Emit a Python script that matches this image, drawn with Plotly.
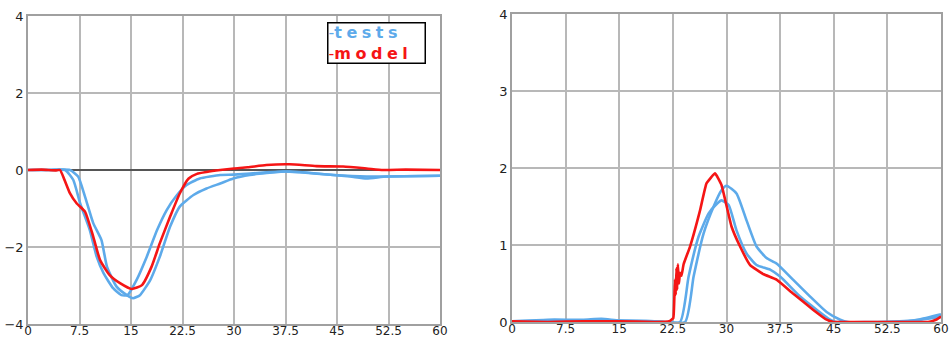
import plotly.graph_objects as go

# ---- left panel data ----
L_model_x = [0, 2, 4, 4.66, 5.3, 6.1, 7.1, 8.3, 9.5, 10.5, 11.9, 13.4, 15.1, 16.6, 18.0, 19.2, 20.7, 22.1, 23.4, 24.6, 26, 28, 30, 32, 34.7, 38.1, 42, 45.9, 49.3, 51.7, 55, 60]
L_model_y = [0, 0.01, -0.01, 0, -0.25, -0.6, -0.87, -1.08, -1.73, -2.34, -2.73, -2.94, -3.09, -2.99, -2.51, -1.9, -1.21, -0.61, -0.22, -0.1, -0.05, 0, 0.04, 0.07, 0.13, 0.15, 0.1, 0.09, 0.04, 0, 0.01, 0]

L_test1_x = [0, 3, 5.4, 6.6, 7.6, 9.0, 10.0, 11.0, 12.4, 13.6, 14.5, 15.8, 17.3, 18.8, 20.2, 21.7, 23.1, 25.0, 28, 30, 34.7, 38.1, 42, 46.9, 49.3, 52.2, 60]
L_test1_y = [0, 0, 0, -0.26, -0.87, -1.56, -2.25, -2.68, -3.07, -3.25, -3.25, -2.86, -2.25, -1.56, -1.04, -0.65, -0.39, -0.22, -0.13, -0.12, -0.06, -0.04, -0.09, -0.17, -0.22, -0.17, -0.15]

L_test2_x = [0, 3, 6.1, 7.3, 8.3, 9.5, 10.7, 11.5, 12.9, 14.4, 15.3, 16.3, 17.8, 19.2, 20.7, 22.1, 24.1, 26.0, 28.0, 29.9, 32.3, 37.2, 39.6, 44.5, 49.3, 60]
L_test2_y = [0, 0, 0, -0.17, -0.69, -1.38, -1.82, -2.51, -3.03, -3.25, -3.33, -3.25, -2.86, -2.25, -1.47, -0.95, -0.65, -0.48, -0.35, -0.22, -0.13, -0.04, -0.06, -0.13, -0.17, -0.15]

# ---- right panel data ----
R_model_x = [0, 5, 10, 15, 20, 22.0, 22.56, 22.7, 22.8, 22.9, 23.0, 23.1, 23.2, 23.35, 23.5, 23.7, 24.0, 24.9, 26.3, 27.2, 28.4, 29.3, 30.7, 31.9, 33.3, 35.2, 37.0, 39.3, 42.1, 44.0, 45, 50, 55, 58.2, 59.3, 60]
R_model_y = [0.01, 0.0, 0.01, 0.01, 0.0, 0.01, 0.05, 0.3, 0.55, 0.35, 0.7, 0.42, 0.75, 0.5, 0.64, 0.6, 0.75, 0.98, 1.45, 1.8, 1.93, 1.78, 1.24, 0.98, 0.74, 0.62, 0.55, 0.37, 0.16, 0.03, 0, 0, 0, 0.0, 0.03, 0.07]

R_testA_x = [0, 5, 10, 12.5, 15, 20, 24.2, 25.4, 26.8, 28.2, 29.3, 30.0, 31.4, 32.8, 34.2, 35.6, 37.0, 39.3, 41.7, 44.0, 45.9, 47.0, 52, 56.8, 60]
R_testA_y = [0.01, 0.03, 0.03, 0.04, 0.02, 0.01, 0, 0.59, 1.15, 1.5, 1.71, 1.77, 1.67, 1.32, 0.98, 0.83, 0.76, 0.55, 0.33, 0.13, 0.03, 0, 0, 0.03, 0.1]

R_testB_x = [0, 5, 10, 15, 20, 23.5, 24.7, 26.1, 27.5, 28.7, 29.3, 30.3, 31.4, 32.8, 34.2, 36.1, 37.5, 40.3, 42.6, 44.5, 45.3, 50, 55.4, 60]
R_testB_y = [0.01, 0.02, 0.02, 0.02, 0.01, 0, 0.59, 1.11, 1.41, 1.54, 1.58, 1.52, 1.19, 0.89, 0.74, 0.68, 0.59, 0.33, 0.16, 0.03, 0, 0, 0.01, 0.07]

x_ticks = [0, 7.5, 15, 22.5, 30, 37.5, 45, 52.5, 60]
x_tick_text = ["0", "7.5", "15", "22.5", "30", "37.5", "45", "52.5", "60"]
L_y_ticks = [-4, -2, 0, 2, 4]
R_y_ticks = [0, 1, 2, 3, 4]
legend_names = ["tests", "model"]

BLUE = "#5DAAEA"
RED = "#F51515"
W, H = 950, 339

fig = go.Figure()

def line(x, y, color, xa, ya, smoothing=0.5):
    fig.add_trace(go.Scatter(x=x, y=y, mode="lines",
                             line=dict(color=color, width=2.6, shape="spline", smoothing=smoothing),
                             xaxis=xa, yaxis=ya, showlegend=False, hoverinfo="skip"))

line(L_test1_x, L_test1_y, BLUE, "x", "y")
line(L_test2_x, L_test2_y, BLUE, "x", "y")
line(L_model_x, L_model_y, RED, "x", "y")
line(R_testA_x, R_testA_y, BLUE, "x2", "y2")
line(R_testB_x, R_testB_y, BLUE, "x2", "y2")
line(R_model_x, R_model_y, RED, "x2", "y2", smoothing=0.3)

yfont = dict(family="DejaVu Sans", size=13, color="#222")
xfont = dict(family="DejaVu Sans", size=12, color="#222")
common_x = dict(range=[0, 60], tickvals=x_ticks, ticktext=x_tick_text, showgrid=True, gridcolor="#b8b8b8", gridwidth=1.5,
                zeroline=False, showline=True, linecolor="#a0a0a0", linewidth=1.5, mirror=True, ticks="",
                tickfont=xfont, automargin=False, fixedrange=True, ticklabelstandoff=-5)
common_y = dict(showgrid=True, gridcolor="#b8b8b8", gridwidth=1.5, showline=True, linecolor="#a0a0a0", linewidth=1.5,
                mirror=True, ticks="", tickfont=yfont, automargin=False, fixedrange=True)

legend_lines = []
for name, col in zip(legend_names, [BLUE, RED]):
    legend_lines.append(
        "<span style='color:%s;font-weight:normal;letter-spacing:0px'>-</span>"
        "<span style='color:%s;letter-spacing:4.5px'>%s</span>" % (col, col, name))
legend_text = "<br>".join(legend_lines)

fig.update_layout(
    width=W, height=H, margin=dict(l=0, r=0, t=0, b=0),
    paper_bgcolor="white", plot_bgcolor="white",
    xaxis=dict(domain=[28 / W, 440 / W], anchor="y", **common_x),
    yaxis=dict(domain=[1 - 324 / H, 1 - 16 / H], anchor="x", range=[-4, 4], tickvals=L_y_ticks,
               zeroline=True, zerolinecolor="#555", zerolinewidth=1.5, **common_y),
    xaxis2=dict(domain=[512 / W, 941 / W], anchor="y2", **common_x),
    yaxis2=dict(domain=[1 - 322 / H, 1 - 14 / H], anchor="x2", range=[0, 4], tickvals=R_y_ticks,
                zeroline=False, **common_y),
    annotations=[dict(
        xref="paper", yref="paper", x=327 / W, y=1 - 22 / H, xanchor="left", yanchor="top",
        text=legend_text, showarrow=False, align="left", valign="middle",
        font=dict(family="DejaVu Sans", size=16, weight="bold"),
        bordercolor="black", borderwidth=1.5, bgcolor="white", borderpad=0, width=96, height=39,
    )],
)

fig.write_html("out.html")
